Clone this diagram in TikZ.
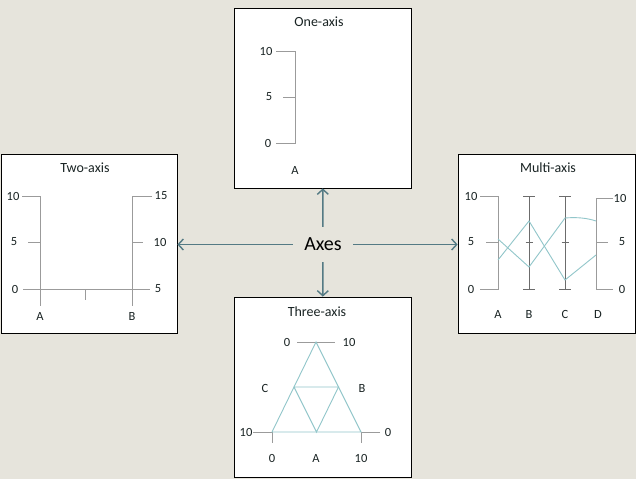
\documentclass[tikz,border=0pt]{standalone}
\usepackage{fontspec}
\setmainfont{Carlito}
\usetikzlibrary{arrows.meta}
\definecolor{bgcol}{RGB}{230,228,220}
\definecolor{arrowcol}{RGB}{84,122,132}
\definecolor{axiscol}{RGB}{155,155,155}
\definecolor{linecol}{RGB}{145,198,202}
\definecolor{txtcol}{RGB}{25,35,35}
\tikzset{
  panel/.style={draw=black, fill=white, line width=0.8pt, inner sep=0pt},
  axis/.style={draw=axiscol, line width=1pt},
  data/.style={draw=linecol, line width=0.9pt},
  lbl/.style={inner sep=0pt, text=txtcol, font=\fontsize{12.5}{14}\selectfont},
  ttl/.style={inner sep=0pt, text=txtcol, font=\fontsize{14}{16}\selectfont},
  link/.style={arrowcol, line width=1.4pt, -{Straight Barb[length=5pt,width=11pt]}}
}
\begin{document}
\begin{tikzpicture}[x=1pt,y=-1pt]
\fill [bgcol] (0,0) rectangle (636,479);
% panels
\node[panel, minimum width=177pt, minimum height=180pt] (one) at (322.5,98) {};
\node[panel, minimum width=176pt, minimum height=179pt] (two) at (89,243.5) {};
\node[panel, minimum width=177pt, minimum height=179pt] (multi) at (546.5,243.5) {};
\node[panel, minimum width=177pt, minimum height=180pt] (three) at (322.5,387) {};
\node[ttl] (one-t) at (319,22) {One-axis};
\node[ttl] (two-t) at (85,168) {Two-axis};
\node[ttl] (multi-t) at (548,168) {Multi-axis};
\node[ttl] (three-t) at (317,312) {Three-axis};
% centre
\node[inner xsep=11.5pt, inner ysep=10pt, text height=13pt, text depth=2pt, anchor=base,
  text=black, font=\fontsize{20}{22}\selectfont] (axes) at (323,250) {Axes};
\draw[link] (axes) -- (one);
\draw[link] (axes) -- (three);
\draw[link] (axes) -- (axes -| two.east);
\draw[link] (axes) -- (axes -| multi.west);
% one-axis
\draw[axis] (276,51) -- (295,51) -- (295,143) -- (276,143);
\draw[axis] (283,97) -- (295,97);
\foreach \v/\x/\y in {10/266/51, 5/269/97, 0/268/143}
  \node[lbl] (one-\v) at (\x,\y) {\v};
\node[lbl] (one-a) at (295,170) {A};
% two-axis
\draw[axis] (22,196) -- (40,196) -- (40,306);
\draw[axis] (28,242) -- (40,242);
\draw[axis] (152,196) -- (132,196) -- (132,306);
\draw[axis] (132,242) -- (143,242);
\draw[axis] (23,289) -- (150,289);
\draw[axis] (85,289) -- (85,300);
\foreach \v/\x/\y in {10/13/196, 5/14/242, 0/15/289}
  \node[lbl] (two-l\v) at (\x,\y) {\v};
\foreach \v/\x/\y in {15/161/196, 10/160/242, 5/158/289}
  \node[lbl] (two-r\v) at (\x,\y) {\v};
\node[lbl] (two-a) at (40,316) {A};
\node[lbl] (two-b) at (132,316) {B};
% multi-axis
\draw[axis] (480,196) -- (498,196) -- (498,289) -- (480,289);
\draw[axis] (486,242) -- (498,242);
\foreach \x in {529,565} {
  \draw[axis, draw=axiscol!70!black, line width=0.8pt] (\x,196) -- (\x,289);
  \draw[axis, draw=axiscol!70!black, line width=0.8pt] (\x-6,196) -- (\x+6,196);
  \draw[axis, draw=axiscol!70!black, line width=0.8pt] (\x-6,289) -- (\x+6,289);
  \draw[axis, draw=axiscol!70!black, line width=0.8pt] (\x-3.5,242) -- (\x+3.5,242);
}
\draw[axis] (613,198) -- (596,198) -- (596,289) -- (613,289);
\draw[axis] (596,242) -- (608,242);
\draw[data] (498,239) -- (529,267) -- (565,218) .. controls (577,217) and (587,218) .. (596,221);
\draw[data] (498,260) -- (529,221) -- (565,280) -- (596,255);
\foreach \v/\y in {10/196, 5/242, 0/289}
  \node[lbl] (multi-l\v) at (471,\y) {\v};
\foreach \v/\x/\y in {10/620/198, 5/622/242, 0/622/289}
  \node[lbl] (multi-r\v) at (\x,\y) {\v};
\foreach \n/\x in {A/498, B/529, C/565, D/598}
  \node[lbl] (multi-\n) at (\x,314) {\n};
% three-axis
\draw[axis] (297,342) -- (335,342);
\draw[axis] (253,432) -- (272,432) -- (272,443);
\draw[axis] (380,432) -- (361,432) -- (361,443);
\draw[data] (316,342) -- (272,432) -- (361,432) -- cycle;
\draw[data] (294,387) -- (338.5,387) -- (316.5,432) -- cycle;
\node[lbl] (three-t0) at (287,342) {0};
\node[lbl] (three-t10) at (349,342) {10};
\node[lbl] (three-l10) at (246,432) {10};
\node[lbl] (three-r0) at (388,432) {0};
\node[lbl] (three-b0) at (272,458) {0};
\node[lbl] (three-b10) at (361,458) {10};
\node[lbl] (three-a) at (316,458) {A};
\node[lbl] (three-c) at (265,388) {C};
\node[lbl] (three-b) at (362,388) {B};
\end{tikzpicture}
\end{document}
